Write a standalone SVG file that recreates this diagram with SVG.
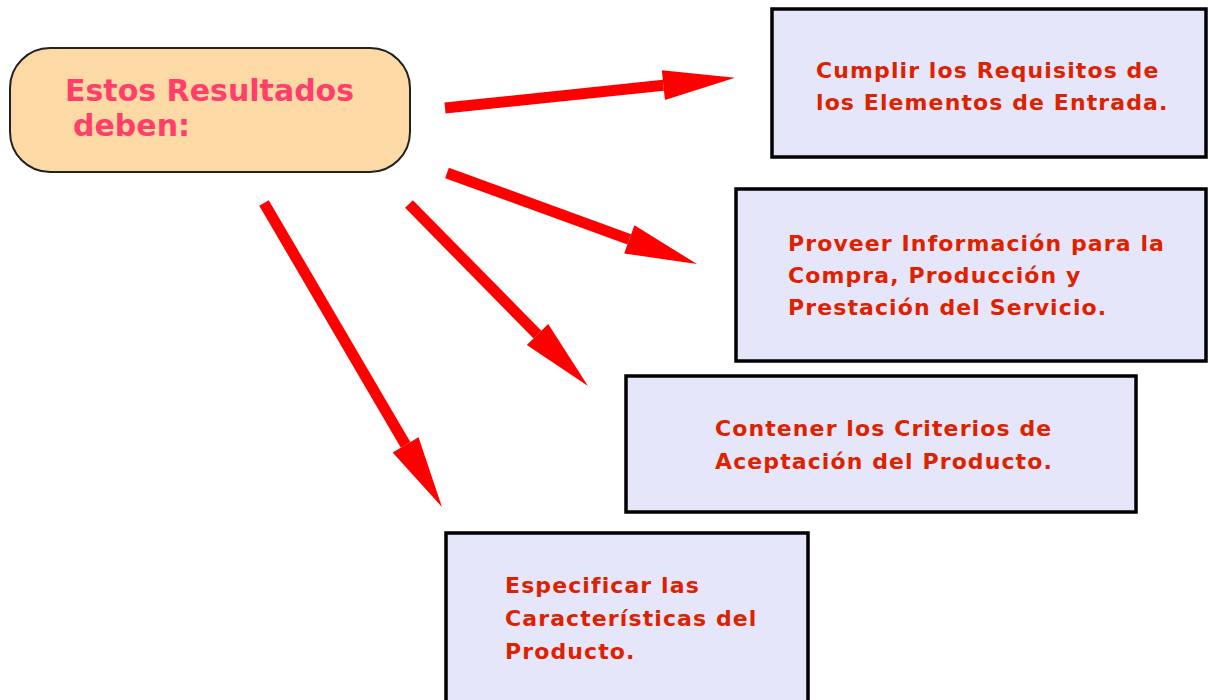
<svg xmlns="http://www.w3.org/2000/svg" width="1208" height="700" viewBox="0 0 1208 700">
<style>
.bg{fill:#ffffff}
.start{fill:#FDD9A6;stroke:#222;stroke-width:2}
.box{fill:#E6E6FA;stroke:#000;stroke-width:3.5}
.title{font-family:"DejaVu Sans",Verdana,sans-serif;font-weight:bold;font-size:30px;fill:#FF3F6A}
.lbl{font-family:"DejaVu Sans",Verdana,sans-serif;font-weight:bold;font-size:22px;fill:#DD2200;letter-spacing:1.1px}
.arrow{stroke:#FF0000;stroke-width:11;fill:none}
</style>
<defs>
<marker id="head" markerUnits="userSpaceOnUse" markerWidth="72" markerHeight="32" refX="0" refY="16" orient="auto" overflow="visible">
<path d="M0,1 L72,16 L0,31 Z" fill="#FF0000"/>
</marker>
</defs>
<rect class="bg" x="0" y="0" width="1208" height="700"/>
<g id="connectors">
<line class="arrow" x1="445" y1="108" x2="663.4" y2="85.2" marker-end="url(#head)"/>
<line class="arrow" x1="447" y1="173" x2="629.3" y2="239.4" marker-end="url(#head)"/>
<line class="arrow" x1="409" y1="204" x2="537.5" y2="334.6" marker-end="url(#head)"/>
<line class="arrow" x1="264" y1="203" x2="405.6" y2="444.9" marker-end="url(#head)"/>
</g>
<g id="node-source">
<rect class="start" x="10" y="48" width="400" height="124" rx="40" ry="40"/>
<text class="title" x="65" y="101">Estos Resultados</text>
<text class="title" x="73" y="136">deben:</text>
</g>
<g id="node-requisitos">
<rect class="box" x="772" y="9" width="434" height="148"/>
<text class="lbl" x="816" y="78">Cumplir los Requisitos de</text>
<text class="lbl" x="816" y="110">los Elementos de Entrada.</text>
</g>
<g id="node-informacion">
<rect class="box" x="736" y="189" width="470" height="172"/>
<text class="lbl" x="788" y="251">Proveer Información para la</text>
<text class="lbl" x="788" y="283">Compra, Producción y</text>
<text class="lbl" x="788" y="315">Prestación del Servicio.</text>
</g>
<g id="node-criterios">
<rect class="box" x="626" y="376" width="510" height="136"/>
<text class="lbl" x="715" y="436">Contener los Criterios de</text>
<text class="lbl" x="715" y="469">Aceptación del Producto.</text>
</g>
<g id="node-caracteristicas">
<rect class="box" x="446" y="533" width="362" height="180"/>
<text class="lbl" x="505" y="593">Especificar las</text>
<text class="lbl" x="505" y="626">Características del</text>
<text class="lbl" x="505" y="659">Producto.</text>
</g>
</svg>
